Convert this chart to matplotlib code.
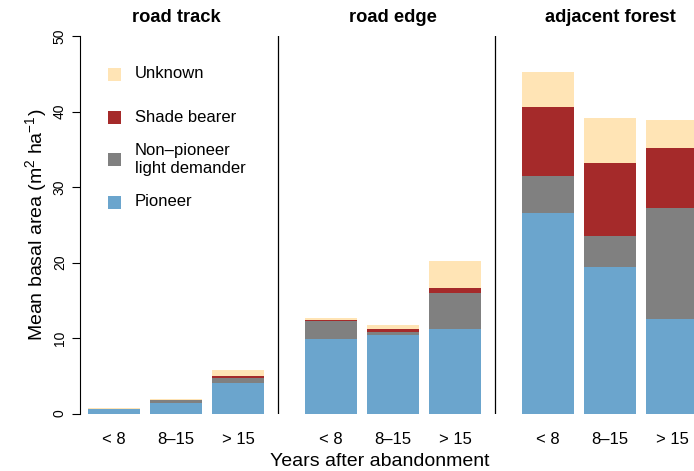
import numpy as np
import matplotlib
matplotlib.use("Agg")
from matplotlib import pyplot as plt
from matplotlib.patches import Rectangle

plt.rcParams['font.family'] = ['Liberation Sans', 'DejaVu Sans']
plt.rcParams['mathtext.fontset'] = 'custom'
plt.rcParams['mathtext.rm'] = 'Liberation Sans'
plt.rcParams['mathtext.it'] = 'Liberation Sans:italic'

# data
sites = ["road track", "road edge", "adjacent forest"]
age_classes = ["< 8", "8\u201315", "> 15"]
guilds = ["Pioneer", "Non\u2013pioneer\nlight demander", "Shade bearer", "Unknown"]
colors = ["#6BA5CD", "#808080", "#A52A2A", "#FFE4B5"]

# one row per site, one column per age class
pioneer = np.array([[0.6, 1.4, 4.05],
                    [9.9, 10.4, 11.2],
                    [26.6, 19.4, 12.5]])
non_pioneer = np.array([[0.0, 0.4, 0.65],
                        [2.3, 0.4, 4.75],
                        [4.9, 4.1, 14.7]])
shade = np.array([[0.0, 0.05, 0.3],
                  [0.25, 0.45, 0.65],
                  [9.1, 9.7, 8.0]])
unknown = np.array([[0.13, 0.1, 0.75],
                    [0.15, 0.5, 3.6],
                    [4.6, 5.9, 3.7]])

layers = [pioneer, non_pioneer, shade, unknown]

W, H = 694, 471
fig = plt.figure(figsize=(W / 100, H / 100), dpi=100)
ax = fig.add_axes([80 / W, 57.5 / H, 614 / W, 377.5 / H])

group_step = 3.5
bar_w = 0.84
for g, site in enumerate(sites):
    x = g * group_step + np.arange(len(age_classes))
    bottom = np.zeros(len(age_classes))
    for vals, col in zip(layers, colors):
        ax.bar(x, vals[g], width=bar_w, bottom=bottom, color=col, linewidth=0)
        bottom += vals[g]
    ax.text(x[1], 1.05, site, transform=ax.get_xaxis_transform(),
            ha="center", va="center", fontsize=13.2, fontweight="bold")
    if g > 0:
        ax.plot([g * group_step - 0.85] * 2, [0, 50], color="black", lw=0.9)

xt = np.concatenate([g * group_step + np.arange(3) for g in range(3)])
ax.set_xticks(xt)
ax.set_xticklabels(age_classes * 3, fontsize=12)
ax.tick_params(axis="x", length=0, pad=13)
ax.set_xlim(-0.548, 9.355)
ax.set_ylim(0, 50)
ax.set_yticks([0, 10, 20, 30, 40, 50])
ax.set_yticklabels(["0", "10", "20", "30", "40", "50"], rotation=90,
                   va="center", fontsize=10)
ax.tick_params(axis="y", length=6, width=0.8, pad=3.5)
for s in ["top", "right", "bottom"]:
    ax.spines[s].set_visible(False)
ax.spines["left"].set_linewidth(0.8)

ax.set_ylabel("Mean basal area (m$^{2}$ ha$^{\u22121}$)", fontsize=14, labelpad=3)
ax.set_xlabel("Years after abandonment", fontsize=14, labelpad=4)
ax.xaxis.set_label_coords(0.489, -0.105)

# legend drawn by hand, pixel positions from the top of the figure
leg_y = [202, 159, 117, 74]
for lab, col, yc in zip(guilds, colors, leg_y):
    fig.patches.append(Rectangle((108 / W, (H - yc - 6.5) / H), 13 / W, 13 / H,
                                 transform=fig.transFigure, facecolor=col,
                                 edgecolor="none"))
    fig.text(135 / W, (H - yc) / H, lab, ha="left", va="center", fontsize=12,
             multialignment="left", linespacing=1.25)

fig.savefig("out.png", dpi=100)
